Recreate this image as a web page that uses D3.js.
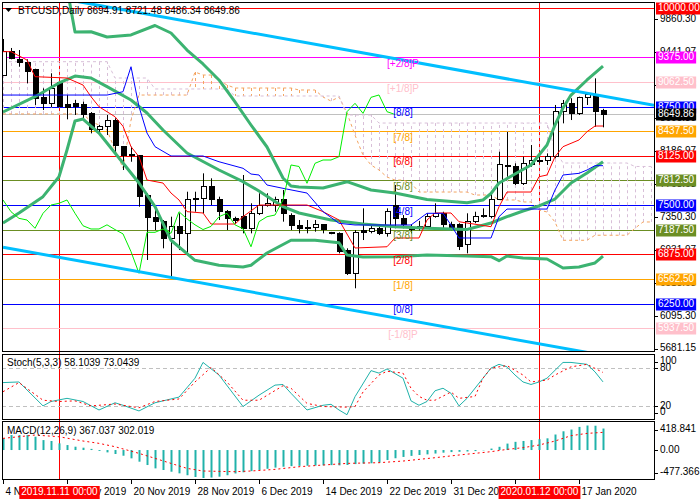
<!DOCTYPE html>
<html><head><meta charset="utf-8">
<script src="https://cdn.jsdelivr.net/npm/d3@7"></script>
<style>body{margin:0;background:#fff}svg{display:block;font-family:"Liberation Sans",Arial,sans-serif;font-size:10px}</style>
</head><body><svg id="c" width="700" height="500"></svg>
<script>
// ---------------- DATA ----------------
const opens  = [9150,9446,9353,9306,9214,8862,8791,9052,8770,8791,8782,8664,8453,8495,8579,8241,8148,8123,7628,7340,7290,7079,7226,7142,7565,7578,7733,7565,7416,7332,7353,7206,7396,7501,7501,7565,7374,7238,7210,7210,7260,7150,7142,6930,6635,7175,7163,7200,7142,7501,7325,7210,7200,7230,7353,7396,7260,7250,7000,7290,7360,7353,7565,8000,7987,7777,8019,8072,8072,8114,8685,8791,8664,8867,8884,8694.91];
const highs  = [9607,9493,9467,9349,9230,8981,9172,9065,8897,8833,8812,8680,8516,8643,8600,8250,8241,8135,7650,7480,7311,7353,7396,7670,7670,7903,7840,7607,7438,7353,7882,7523,7650,7650,7607,7692,7396,7311,7311,7311,7260,7160,7155,6952,7184,7459,7250,7230,7459,7755,7374,7260,7300,7396,7523,7416,7290,7270,7396,7416,7459,7650,8177,8430,8030,8114,8262,8114,8156,8770,8833,8855,8875,8897,9108,8721.48];
const lows   = [9140,9349,9255,9045,8770,8706,8740,8740,8588,8643,8579,8410,8410,8389,8135,7945,8050,7480,6804,7184,6952,6572,6930,6888,7416,7396,7501,7311,7184,7260,7142,7142,7374,7480,7416,7290,7184,7142,7142,7163,7142,7130,6888,6614,6445,7057,7142,7120,7100,7206,7206,7140,7180,7220,7340,7206,7180,6930,6888,7270,7340,7332,7565,7860,7755,7755,7987,8030,8009,8093,8537,8579,8643,8770,8494,8486.34];
const closes = [9446,9360,9311,9192,8855,8791,8981,8748,8740,8757,8655,8453,8503,8579,8262,8135,8123,7615,7340,7290,7079,7227,7142,7565,7578,7733,7565,7416,7332,7311,7206,7396,7501,7523,7565,7396,7238,7197,7197,7250,7190,7135,6910,6635,7155,7155,7197,7142,7416,7325,7250,7190,7230,7353,7396,7250,7200,6972,7290,7353,7374,7565,8009,7990,7777,8030,8072,8072,8114,8685,8791,8664,8867,8897,8685,8649.86];

const dateTicks  = [0,8,16,24,32,40,48,56,64,72];
const dateLabels = ['4 Nov 2019','12 Nov 2019','20 Nov 2019','28 Nov 2019','6 Dec 2019','14 Dec 2019','22 Dec 2019','31 Dec 2019','9 Jan 2020','17 Jan 2020'];
const markedBars   = [7,67];
const markedLabels = ['2019.11.11 00:00','2020.01.12 00:00'];

const priceTicks = [9860.30,9441.97,9023.63,8605.30,8186.97,7768.63,7350.30,6931.97,6513.63,6095.30];
const priceMinLabel = 5681.15;

const mmLevels = [10000,9375,9062.5,8750,8437.5,8125,7812.5,7500,7187.5,6875,6562.5,6250,5937.5];
const mmNames  = ['','[+2/8]P','[+1/8]P','[8/8]','[7/8]','[6/8]','[5/8]','[4/8]','[3/8]','[2/8]','[1/8]','[0/8]','[-1/8]P'];
const lastPrice = 8649.86;

// Bollinger bands [bar, price]
const bbUpper = [[7,10736],[8,10254],[9,9696],[11,9699],[13,9632],[16,9658],[19,9778],[21,9683],[23,9467],[25,9290],[27,9087],[29,8808],[31,8516],[33,8237],[35,7844],[36,7742],[37,7730],[40,7717],[43,7797],[46,7692],[49,7653],[53,7571],[58,7530],[60,7565],[61,7647],[62,7780],[64,7894],[66,8009],[68,8262],[69,8516],[70,8732],[71,8896],[73,9087],[75,9264]];
const bbMiddle = [[0,8681],[4,8875],[7,9049],[9,9137],[11,9112],[13,9002],[16,8833],[18,8668],[20,8453],[23,8161],[27,7945],[30,7797],[32,7679],[35,7480],[37,7400],[41,7311],[45,7260],[49,7226],[53,7206],[58,7190],[61,7273],[63,7353],[65,7425],[67,7489],[69,7577],[71,7780],[73,7907],[75,8050]];
const bbLower = [[0,7273],[2,7400],[5,7607],[7,7860],[8,8199],[9,8567],[10,8592],[12,8414],[14,8161],[17,7780],[19,7480],[21,7054],[24,6800],[27,6737],[30,6716],[31,6737],[33,6892],[36,7054],[39,7054],[42,7023],[43,6867],[45,6842],[49,6846],[53,6867],[58,6854],[61,6846],[62,6795],[63,6854],[65,6829],[68,6816],[70,6702],[72,6715],[74,6766],[75,6854]];

// Ichimoku
const tenkan = [[0,9446],[1,9446],[3,9340],[4,9129],[8,9112],[10,9023],[11,8875],[12,8748],[14,8621],[15,8500],[16,8241],[17,8114],[18,7818],[20,7780],[21,7653],[22,7565],[23,7417],[25,7400],[26,7260],[29,7260],[30,7353],[32,7501],[38,7501],[40,7417],[42,7311],[44,6956],[48,6972],[49,7083],[52,7083],[53,7311],[54,7400],[56,7400],[57,7289],[61,7226],[62,7480],[63,7666],[66,7666],[67,7860],[68,7882],[69,8114],[70,8241],[72,8326],[73,8431],[74,8503],[75,8503]];
const kijun = [[0,8896],[13,8896],[15,8938],[16,9255],[17,8748],[18,8414],[19,8241],[21,8123],[25,8123],[27,8050],[30,7967],[31,7894],[32,7882],[33,7755],[35,7713],[38,7653],[40,7417],[42,7269],[44,7248],[51,7248],[53,7396],[55,7396],[56,7248],[57,7083],[61,7083],[62,7353],[63,7450],[68,7450],[69,7692],[70,7882],[72,7903],[73,7945],[74,8000],[75,8000]];
const senkouA = [8656,8656,8656,8656,8656,8656,8656,8656,8656,8656,8656,8560,8516,8453,8199,7970,8579,8896,8896,8896,8896,8896,8896,8896,9188,9150,9150,9087,9023,8985,8985,8985,8985,8985,8985,8985,8985,8960,8960,8960,8871,8820,8871,8668,8389,8135,8009,7945,7856,7818,7818,7780,7666,7666,7666,7666,7666,7666,7666,7628,7628,7628,7565,7565,7565,7540,7540,7438,7413,7286,7054,7054,7054,7054,7118,7118,7118,7118,7118,7206,7286,7286];
const senkouB = [9319,9319,9319,9319,9319,9319,9319,9319,9319,9319,9319,9319,9319,9319,9112,9112,9112,9112,9112,8973,8973,8973,8973,8973,8973,8973,8973,8973,8973,8884,8884,8884,8884,8884,8884,8884,8884,8884,8884,8884,8884,8884,8884,8643,8643,8643,8643,8541,8541,8541,8541,8541,8541,8541,8541,8541,8541,8541,8541,8541,8541,8541,8541,8541,8541,8541,8541,8541,8541,8199,8034,8034,8034,8034,8034,8034,8034,8034,8034,7990,7990,7990];

// trend channel [bar, price]
const trendUpper = [[0,10252],[81.375,8766]];
const trendLower = [[0,6966],[81.375,5479]];

// Stochastic (5,3,3)
const stochK = [[0,57],[2,58],[5,20],[6,27],[8,32],[10,27],[12,13.5],[14,25],[15,21],[17,12],[19,25],[20,28],[22,34],[24,64],[25,89],[27,69],[30,19],[32,37],[34,53],[35,54],[36,40],[38,13.5],[40,21],[41,22.5],[42,13.5],[43,6],[44,34.6],[46,76],[47,72],[48,78.6],[50,64],[51,28],[52,21],[53,27],[54,44],[55,48],[56,40],[57,20],[58,32],[60,64],[61,80],[62,86],[63,82],[64,69],[65,58],[66,54],[67,58],[68,64],[70,89],[71,89],[73,86],[74,74],[75,58.1039]];
const stochD = [[0,42.5],[2,57],[5,29],[7,27],[9,28],[11,20],[14,23],[17,17],[19,27],[22,31],[24,58],[26,81],[28,58],[30,29],[32,29],[35,52],[36,48],[38,24],[40,19],[43,18],[44,19],[45,42],[47,69],[48,75],[50,72],[51,48],[52,35],[53,29],[54,29],[56,42],[57,32],[59,35],[60,64],[61,80],[63,84],[65,69],[66,58],[68,61],[69,69],[71,82],[73,86],[75,73.0439]];
const stochLevels = [80,20];

// MACD (12,26,9)
const macdMain = [199,256,256,256,227,170,154,114,85,57,40,20,-15,-40,-68,-97,-142,-199,-256,-313,-341,-370,-398,-430,-460,-477.366,-470,-455,-430,-400,-380,-360,-340,-320,-300,-285,-275,-270,-268,-265,-262,-258,-262,-255,-240,-232,-226,-215,-170,-140,-118,-100,-85,-74,-60,-45,-35,-30,-25,-18,-5,25,55,110,140,155,170,185,200,265,320,350,395,418.841,415,367.037];
const macdSignal = [[0,199],[4,256],[7,227],[10,154],[12,114],[14,57],[17,-57],[19,-142],[21,-228],[23,-313],[25,-358],[29,-370],[31,-358],[34,-330],[37,-285],[40,-256],[43,-228],[47,-216],[50,-188],[54,-131],[57,-85],[61,-28],[63,11],[65,40],[67,85],[69,154],[71,245],[73,284],[75,302.019]];

// ---------------- STYLE ----------------
const mmColors = ['#ff0000','#ff00ff','#ffc0cb','#0000ff','#ffa500','#ff0000','#6b8e23','#0000ff','#6b8e23','#ff0000','#ffa500','#0000ff','#ffc0cb'];
const AX = 654, L = 2;
const P = {mainTop:2, mainBot:351, stTop:354, stBot:419, mdTop:421, mdBot:479};

const svg = d3.select('#c');
svg.append('rect').attr('width',700).attr('height',500).attr('fill','#fff');

const x = d3.scaleLinear().domain([-0.125, 81.375]).range([L, AX]);
const y = d3.scaleLinear().domain([5649.6, 10076.1]).range([P.mainBot, P.mainTop]);
const ys = d3.scaleLinear().domain([0,100]).range([418.5, 355.5]);
const ym = d3.scaleLinear().domain([-477.366, 418.841]).range([478, 425.5]);

const defs = svg.append('defs');
function clip(id, y0, y1){ defs.append('clipPath').attr('id',id).append('rect').attr('x',L).attr('y',y0).attr('width',AX-L).attr('height',y1-y0); }
clip('cm', P.mainTop, P.mainBot); clip('cs', P.stTop, P.stBot); clip('cd', P.mdTop, P.mdBot);

const px = i => Math.round(x(i)) + 0.5;

// red vertical marker lines
svg.append('g').selectAll('line').data(markedBars).join('line')
  .attr('x1',d=>px(d)).attr('x2',d=>px(d)).attr('y1',P.mainTop).attr('y2',P.mdBot)
  .attr('stroke','#ff0000').attr('stroke-width',1);

const main = svg.append('g').attr('clip-path','url(#cm)');

// Murrey lines
main.selectAll('line.mm').data(mmLevels).join('line').attr('class','mm')
  .attr('x1',L).attr('x2',AX).attr('y1',d=>Math.round(y(d))+0.5).attr('y2',d=>Math.round(y(d))+0.5)
  .attr('stroke',(d,i)=>mmColors[i]).attr('stroke-width',1);
main.append('line').attr('x1',L).attr('x2',AX)
  .attr('y1',Math.round(y(lastPrice))+0.5).attr('y2',Math.round(y(lastPrice))+0.5)
  .attr('stroke','#c0c0c0');

// Ichimoku cloud hatch
const cloudIdx = d3.range(senkouA.length);
main.append('g').selectAll('line').data(cloudIdx).join('line')
  .attr('x1',i=>px(i)).attr('x2',i=>px(i))
  .attr('y1',i=>y(senkouA[i])).attr('y2',i=>y(senkouB[i]))
  .attr('stroke',i=>senkouA[i]>=senkouB[i]?'#f4a460':'#d8bfd8')
  .attr('stroke-dasharray','3,3').attr('stroke-width',1);
const lineIdx = d3.line().x((d,i)=>x(i)).y(d=>y(d)).curve(d3.curveStepAfter);
main.append('path').attr('d', d3.line().x((d,i)=>x(i)).y(d=>y(d))(senkouA))
  .attr('fill','none').attr('stroke','#f4a460').attr('stroke-dasharray','3,3');
main.append('path').attr('d', d3.line().x((d,i)=>x(i)).y(d=>y(d))(senkouB))
  .attr('fill','none').attr('stroke','#d8bfd8').attr('stroke-dasharray','3,3');

// candles
const candles = main.append('g');
opens.forEach((o,i)=>{
  const c = closes[i], cx = px(i);
  candles.append('line').attr('x1',cx).attr('x2',cx).attr('y1',y(highs[i])).attr('y2',y(lows[i])).attr('stroke','#000');
  const top = y(Math.max(o,c)), bot = y(Math.min(o,c));
  candles.append('rect').attr('x',cx-2.5+0.5-0.5).attr('y',top).attr('width',5).attr('height',Math.max(1,bot-top))
    .attr('fill', c>=o ? '#fff' : '#000').attr('stroke','#000').attr('stroke-width',1).attr('shape-rendering','crispEdges');
});

// Bollinger bands
const pl = d3.line().x(d=>x(d[0])).y(d=>y(d[1]));
[bbUpper,bbMiddle,bbLower].forEach(s=>{
  main.append('path').attr('d',pl(s)).attr('fill','none').attr('stroke','#3cb371').attr('stroke-width',3).attr('stroke-linejoin','round');
});
// Ichimoku lines
main.append('path').attr('d',pl(tenkan)).attr('fill','none').attr('stroke','#ff0000').attr('stroke-width',1);
main.append('path').attr('d',pl(kijun)).attr('fill','none').attr('stroke','#0000ff').attr('stroke-width',1);
const chikou = closes.slice(26).map((c,k)=>[k,c]);
main.append('path').attr('d',pl(chikou)).attr('fill','none').attr('stroke','#00ee00').attr('stroke-width',1);

// trend channel
[trendUpper,trendLower].forEach(s=>{
  main.append('path').attr('d',pl(s)).attr('fill','none').attr('stroke','#00bfff').attr('stroke-width',3);
});

// Murrey labels
main.selectAll('text.mm').data(mmLevels).join('text').attr('class','mm')
  .attr('x',403).attr('y',d=>y(d)+7).attr('text-anchor','middle').attr('dominant-baseline','middle')
  .attr('fill',(d,i)=>mmColors[i]).text((d,i)=>mmNames[i]);

// header
svg.append('path').attr('d','M5,8 L12,8 L8.5,12 Z').attr('fill','#000');
svg.append('text').attr('x',18).attr('y',11).attr('dominant-baseline','middle').attr('fill','#000')
  .text('BTCUSD,Daily  ' + [opens[75],highs[75],lows[75],closes[75]].map(d3.format('.2f')).join(' '));

// ---- Stochastic panel ----
const st = svg.append('g').attr('clip-path','url(#cs)');
st.selectAll('line').data(stochLevels).join('line').attr('x1',L).attr('x2',AX)
  .attr('y1',d=>Math.round(ys(d))+0.5).attr('y2',d=>Math.round(ys(d))+0.5)
  .attr('stroke','#c0c0c0').attr('stroke-dasharray','4,3');
const sl = d3.line().x(d=>x(d[0])).y(d=>ys(d[1]));
st.append('path').attr('d',sl(stochK)).attr('fill','none').attr('stroke','#20b2aa').attr('stroke-width',1);
st.append('path').attr('d',sl(stochD)).attr('fill','none').attr('stroke','#ff0000').attr('stroke-width',1).attr('stroke-dasharray','2,3');
svg.append('text').attr('x',7).attr('y',363).attr('dominant-baseline','middle').attr('fill','#000')
  .text('Stoch(5,3,3) 58.1039 73.0439');

// ---- MACD panel ----
const md = svg.append('g').attr('clip-path','url(#cd)');
md.selectAll('line').data(macdMain).join('line')
  .attr('x1',(d,i)=>px(i)).attr('x2',(d,i)=>px(i))
  .attr('y1',ym(0)).attr('y2',d=>ym(d)).attr('stroke','#20b2aa').attr('stroke-width',2);
md.append('path').attr('d',d3.line().x(d=>x(d[0])).y(d=>ym(d[1]))(macdSignal))
  .attr('fill','none').attr('stroke','#ff0000').attr('stroke-width',1).attr('stroke-dasharray','2,3');
svg.append('text').attr('x',7).attr('y',431).attr('dominant-baseline','middle').attr('fill','#000')
  .text('MACD(12,26,9) 367.037 302.019');

// ---- panel borders ----
[[P.mainTop,P.mainBot],[P.stTop,P.stBot],[P.mdTop,P.mdBot]].forEach(([a,b])=>{
  svg.append('rect').attr('x',L+0.5).attr('y',a+0.5).attr('width',AX-L).attr('height',b-a)
    .attr('fill','none').attr('stroke','#000').attr('stroke-width',1);
});

// ---- right axis ----
const ax = svg.append('g');
const tickText = (yy, t) => {
  ax.append('line').attr('x1',AX).attr('x2',AX+4).attr('y1',Math.round(yy)+0.5).attr('y2',Math.round(yy)+0.5).attr('stroke','#000');
  ax.append('text').attr('x',AX+6).attr('y',yy).attr('dominant-baseline','middle').attr('fill','#000').text(t);
};
priceTicks.forEach(v=>tickText(y(v), d3.format('.2f')(v)));
tickText(348.5, d3.format('.2f')(priceMinLabel));
tickText(361.5,'100'); tickText(ys(80),'80'); tickText(ys(20),'20'); tickText(412.5,'0');
tickText(429.5,'418.841'); tickText(ym(0),'0.00'); tickText(472.5,'-477.366');

// colored price boxes
const boxes = mmLevels.map((v,i)=>({v, c:mmColors[i]}));
boxes.splice(4,0,{v:lastPrice,c:'#000'});
boxes.forEach(b=>{
  const yy = Math.round(y(b.v));
  const g = ax.append('g');
  const t = g.append('text').attr('x',AX+4).attr('y',yy+0.5).attr('dominant-baseline','middle').attr('fill','#fff').text(d3.format('.2f')(b.v));
  const w = t.node().getComputedTextLength();
  g.insert('rect','text').attr('x',AX+2).attr('y',yy-5.5).attr('width',w+4).attr('height',12).attr('fill',b.c);
});

// ---- time axis ----
const tx = svg.append('g');
dateTicks.forEach((b,k)=>{
  const xx = px(b);
  tx.append('line').attr('x1',xx).attr('x2',xx).attr('y1',P.mdBot).attr('y2',P.mdBot+5).attr('stroke','#000');
  tx.append('text').attr('x',xx+2).attr('y',492).attr('dominant-baseline','middle').attr('fill','#000').text(dateLabels[k]);
});
markedBars.forEach((b,k)=>{
  const g = tx.append('g');
  const t = g.append('text').attr('x',px(b)).attr('y',492).attr('text-anchor','middle').attr('dominant-baseline','middle').attr('fill','#fff').text(markedLabels[k]);
  const w = t.node().getComputedTextLength();
  g.insert('rect','text').attr('x',px(b)-w/2-2).attr('y',486).attr('width',w+4).attr('height',13).attr('fill','#ff0000');
});
</script></body></html>
